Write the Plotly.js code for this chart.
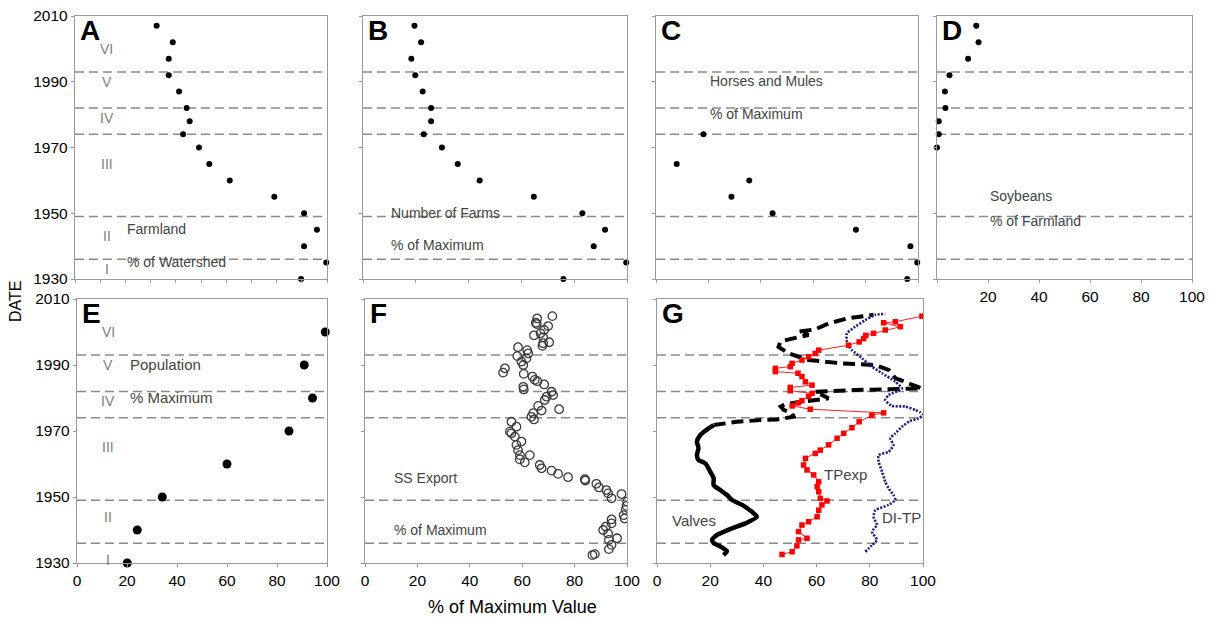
<!DOCTYPE html>
<html>
<head>
<meta charset="utf-8">
<script src="https://cdn.plot.ly/plotly-3.0.1.min.js"></script>
<style>html,body{margin:0;padding:0;background:#fff;}#chart{width:1211px;height:620px;}</style>
</head>
<body>
<div id="chart"></div>
<script>
// ---------- DATA ----------
const farmlandYear = [2007,2002,1997,1992,1987,1982,1978,1974,1970,1965,1960,1955,1950,1945,1940,1935,1930];
const farmlandPct  = [32.4,38.8,37.2,37.2,41.3,44.3,45.5,42.9,49.2,53.3,61.4,79.1,90.9,96.0,90.9,99.7,89.7];

const farmsYear = [2007,2002,1997,1992,1987,1982,1978,1974,1970,1965,1960,1955,1950,1945,1940,1935,1930];
const farmsPct  = [19.5,22.0,18.3,19.8,22.6,25.8,25.8,23.0,29.9,35.9,44.2,64.7,83.1,91.7,87.4,99.7,75.9];

const horsesYear = [1974,1965,1960,1955,1950,1945,1940,1935,1930];
const horsesPct  = [18.1,7.9,35.6,28.8,44.5,76.3,97.1,99.7,95.9];

const soyYear = [2007,2002,1997,1992,1987,1982,1978,1974,1970];
const soyPct  = [15.4,16.3,12.2,4.9,3.1,3.3,0.7,0.7,0.0];

const popYear = [2000,1990,1980,1970,1960,1950,1940,1930];
const popPct  = [99.3,90.9,94.2,84.8,60.0,34.1,24.1,20.1];

const ssYear = [2004.8,2004.1,2002.8,2002.4,2001.8,2000.6,1999.6,1999.0,1998.4,1996.9,1996.6,1995.8,1995.4,1994.5,1993.5,1992.7,1992.0,1991.0,1990.0,1989.0,1987.7,1987.3,1986.5,1985.5,1985.1,1984.1,1983.4,1982.6,1981.9,1980.9,1980.4,1979.4,1977.6,1976.6,1976.2,1975.4,1974.3,1973.5,1972.8,1971.3,1969.8,1969.3,1968.3,1966.8,1965.8,1964.2,1962.7,1962.7,1961.4,1960.5,1959.7,1958.7,1958.0,1957.0,1956.0,1955.4,1955.0,1954.0,1952.9,1952.1,1951.1,1950.9,1949.6,1948.6,1947.3,1946.1,1944.5,1943.5,1943.2,1942.0,1941.0,1940.0,1938.9,1937.5,1937.0,1935.5,1934.2,1932.7,1932.4];
const ssPct  = [71.5,65.7,65.2,65.6,69.9,68.4,67.0,64.5,68.0,70.3,68.0,67.7,58.4,61.9,62.3,58.1,61.6,59.7,60.4,53.4,52.7,60.6,63.9,64.8,65.8,68.4,60.4,60.6,71.2,71.8,69.3,68.6,66.1,74.1,67.4,64.2,63.5,64.5,55.9,57.8,55.3,55.9,57.2,59.7,57.8,58.4,59.1,62.9,59.1,61.0,66.7,67.4,71.2,73.7,77.5,83.9,84.1,88.3,89.3,92.1,92.8,97.9,94.1,100.0,99.8,99.5,98.7,99.1,94.1,94.1,91.9,90.9,92.8,96.2,93.1,94.1,93.1,87.7,86.8];

const valvesSolidYear = [1932.4,1933.6,1935.0,1936.0,1937.0,1938.5,1940.5,1942.0,1944.0,1945.5,1947.6,1949.1,1950.6,1952.1,1953.6,1955.7,1957.7,1960.2,1961.2,1962.7,1964.8,1966.8,1968.8,1970.8,1971.8];
const valvesSolidPct  = [25.0,26.3,23.8,21.3,20.7,22.6,28.2,33.2,37.6,35.7,32.0,28.2,26.3,23.8,21.3,21.3,20.0,18.2,15.6,15.0,15.6,15.0,16.3,19.4,21.3];
const valvesDashYear = [1971.8,1972.8,1973.3,1973.5,1974.3,1975.4,1976.4,1977.4,1978.2,1979.4,1979.9,1980.9,1981.9,1982.4,1982.9,1984.4,1986.0,1988.5,1990.0,1990.5,1991.5,1992.5,1993.5,1995.5,1997.1,1998.0,1999.1,2000.1,2000.8,2002.6,2004.2,2005.2];
const valvesDashPct  = [21.3,30.0,38.8,45.1,51.4,50.7,47.6,46.5,48.5,58.3,64.5,62.0,59.5,74.5,99.6,94.6,89.6,87.1,82.1,69.5,57.0,53.2,49.5,45.7,46.4,50.8,57.0,53.2,59.5,64.5,72.0,81.4];

const tpYear = [1932.6,1933.4,1935.2,1937.0,1937.5,1939.5,1941.5,1942.5,1944.0,1946.0,1947.6,1948.8,1949.6,1951.6,1953.1,1954.6,1956.7,1958.2,1959.7,1961.7,1963.2,1964.2,1965.8,1967.8,1969.3,1971.0,1972.8,1974.8,1975.5,1976.6,1977.6,1978.5,1979.2,1980.5,1981.4,1982.2,1983.2,1983.9,1984.9,1986.5,1987.5,1988.0,1989.0,1989.5,1990.5,1991.5,1992.5,1993.5,1994.5,1996.0,1997.0,1998.0,1999.0,1999.6,2000.6,2001.6,2002.8,2003.1,2004.8];
const tpPct  = [47.0,50.8,52.6,53.2,56.4,53.2,54.5,57.0,60.2,60.8,62.0,63.9,61.4,60.8,60.2,60.8,58.9,56.4,55.1,55.8,59.5,61.4,64.5,67.7,70.2,73.3,76.0,80.8,85.2,57.6,50.8,53.0,54.5,57.0,58.3,50.1,50.1,58.3,55.8,54.5,53.0,44.5,44.5,50.1,50.8,54.5,57.0,59.5,60.8,72.0,76.0,77.7,78.5,81.4,85.8,91.5,85.2,89.6,99.6];

const ditpYear = [1933.4,1935.4,1937.0,1939.5,1941.5,1944.0,1946.0,1947.6,1949.1,1950.6,1952.6,1954.6,1957.7,1960.7,1962.7,1963.7,1965.8,1967.8,1969.3,1971.3,1973.0,1973.8,1974.8,1975.6,1976.4,1977.4,1977.6,1979.4,1980.9,1982.9,1984.9,1987.5,1989.5,1992.0,1994.5,1997.0,1999.6,2001.6,2003.6,2005.2,2005.5];
const ditpPct  = [78.3,80.8,82.7,80.8,82.7,81.4,82.1,87.1,89.6,88.9,87.1,85.8,84.6,83.3,83.3,87.1,88.9,87.7,89.6,92.1,95.0,98.3,100.0,99.0,97.1,93.3,88.3,85.8,87.1,92.1,89.6,84.6,80.8,77.1,73.3,71.4,71.4,74.5,78.3,82.1,85.8];

const periodYears = [1993,1982,1974,1949,1936];
const romanLabels = ['VI','V','IV','III','II','I'];
const romanYearsTop = [2000,1990,1979,1965,1943,1933];
const romanYearsBottom = [2000,1990,1979,1965,1944,1931];
const panelLetters = ['A','B','C','D','E','F','G'];
const yTicks = [1930,1950,1970,1990,2010];

// ---------- LAYOUT ----------
const W = 1211, H = 620;
const px = v => v / W;
const py = v => 1 - v / H;
const xDom = [[75,327],[363,627],[656,918],[937,1192],[77,327],[365,627],[657,923]];
const yDom = [[16,279],[16,279],[16,279],[16,279],[299,563],[299,563],[299,563]];
const FONT = 'Liberation Sans, Arial, sans-serif';
const FRAME = '#9a9a9a';

const layout = {
  width: W, height: H,
  margin: {l:0, r:0, t:0, b:0},
  paper_bgcolor: '#fff', plot_bgcolor: '#fff',
  showlegend: false,
  font: {family: FONT, size: 15, color: '#000'},
  shapes: [], annotations: []
};

for (let i = 0; i < 7; i++) {
  const n = i === 0 ? '' : String(i + 1);
  const xa = {
    domain: [px(xDom[i][0]), px(xDom[i][1])],
    anchor: 'y' + n, range: [0, 100], showgrid: false, zeroline: false,
    showline: true, mirror: true, linecolor: FRAME, linewidth: 1.2,
    ticks: 'outside', ticklen: 3, tickcolor: FRAME,
    tickmode: 'array', tickvals: [0,20,40,60,80,100],
    ticktext: ['0','20','40','60','80','100'],
    tickfont: {family: FONT, size: 15.5, color: '#000'},
    showticklabels: i >= 3, fixedrange: true
  };
  if (i === 0) { xa.tickvals = [0,10,20,30,40,50,60,70,80,90,100]; xa.ticktext = xa.tickvals.map(String); }
  if (i === 3) { xa.ticktext = ['','20','40','60','80','100']; }
  const ya = {
    domain: [py(yDom[i][1]), py(yDom[i][0])],
    anchor: 'x' + n, range: [1930, 2010], showgrid: false, zeroline: false,
    showline: true, mirror: true, linecolor: FRAME, linewidth: 1.2,
    ticks: 'outside', ticklen: 3, tickcolor: FRAME,
    tickmode: 'array', tickvals: yTicks,
    tickfont: {family: FONT, size: 15.5, color: '#000'},
    showticklabels: (i === 0 || i === 4), fixedrange: true
  };
  layout['xaxis' + n] = xa;
  layout['yaxis' + n] = ya;

  periodYears.forEach(yr => {
    layout.shapes.push({type: 'line', xref: 'x' + n + ' domain', yref: 'y' + n,
      x0: 0, x1: 1, y0: yr, y1: yr,
      line: {color: '#8a8a8a', width: 1.5, dash: '9px,5px'}, layer: 'below'});
  });

  layout.annotations.push({xref: 'x' + n + ' domain', yref: 'y' + n + ' domain',
    x: 0.01, y: 1.01, xanchor: 'left', yanchor: 'top', showarrow: false,
    text: '<b>' + panelLetters[i] + '</b>', font: {family: FONT, size: 28, color: '#000'}});
}

function note(ax, x, y, text, opts) {
  const n = ax === 1 ? '' : String(ax);
  layout.annotations.push(Object.assign({xref: 'x' + n, yref: 'y' + n, x: x, y: y,
    xanchor: 'left', yanchor: 'middle', showarrow: false, text: text,
    font: {family: FONT, size: 14, color: '#444'}}, opts || {}));
}

romanLabels.forEach((r, k) => {
  note(1, 12.5, romanYearsTop[k], r, {xanchor: 'center', font: {family: FONT, size: 14, color: '#808080'}});
  note(5, 12.5, romanYearsBottom[k], r, {xanchor: 'center', font: {family: FONT, size: 14, color: '#808080'}});
});

note(1, 20, 1945.3, 'Farmland');
note(1, 20, 1935.2, '% of Watershed');
note(2, 10, 1950.2, 'Number of Farms');
note(2, 10, 1940.2, '% of Maximum');
note(3, 20, 1990.3, 'Horses and Mules');
note(3, 20, 1980.2, '% of Maximum');
note(4, 20, 1955.3, 'Soybeans');
note(4, 20, 1947.5, '% of Farmland');
note(5, 20.5, 1990.3, 'Population', {font: {family: FONT, size: 15, color: '#444'}});
note(5, 20.5, 1980.3, '% Maximum', {font: {family: FONT, size: 15, color: '#444'}});
note(6, 10.2, 1955.9, 'SS Export');
note(6, 10.2, 1940, '% of Maximum');
note(7, 5, 1942.8, 'Valves', {font: {family: FONT, size: 15, color: '#444'}});
note(7, 62, 1956.7, 'TPexp', {font: {family: FONT, size: 15, color: '#444'}});
note(7, 84, 1943.8, 'DI-TP', {font: {family: FONT, size: 15, color: '#444'}});

layout.annotations.push({xref: 'paper', yref: 'paper', x: px(15), y: py(302),
  text: 'DATE', textangle: -90, showarrow: false, xanchor: 'center', yanchor: 'middle',
  font: {family: FONT, size: 16, color: '#000'}});
layout.annotations.push({xref: 'paper', yref: 'paper', x: px(512), y: py(607),
  text: '% of Maximum Value', showarrow: false, xanchor: 'center', yanchor: 'middle',
  font: {family: FONT, size: 18, color: '#000'}});

// ---------- TRACES ----------
const dot = (xs, ys, ax, size) => ({type: 'scatter', mode: 'markers', x: xs, y: ys,
  xaxis: 'x' + (ax === 1 ? '' : ax), yaxis: 'y' + (ax === 1 ? '' : ax),
  marker: {color: '#000', size: size}, hoverinfo: 'skip', cliponaxis: false});

const traces = [
  dot(farmlandPct, farmlandYear, 1, 6),
  dot(farmsPct, farmsYear, 2, 6),
  dot(horsesPct, horsesYear, 3, 6),
  dot(soyPct, soyYear, 4, 6),
  dot(popPct, popYear, 5, 9),
  {type: 'scatter', mode: 'markers', x: ssPct, y: ssYear, xaxis: 'x6', yaxis: 'y6',
    marker: {symbol: 'circle-open', size: 8.5, color: '#3a3a3a', line: {width: 1.3, color: '#3a3a3a'}}, hoverinfo: 'skip'},
  {type: 'scatter', mode: 'lines', x: valvesSolidPct, y: valvesSolidYear, xaxis: 'x7', yaxis: 'y7',
    line: {color: '#000', width: 4.5, shape: 'spline', smoothing: 0.6}, hoverinfo: 'skip'},
  {type: 'scatter', mode: 'lines', x: valvesDashPct, y: valvesDashYear, xaxis: 'x7', yaxis: 'y7',
    line: {color: '#000', width: 4, dash: '12px,6px'}, hoverinfo: 'skip'},
  {type: 'scatter', mode: 'lines', x: ditpPct, y: ditpYear, xaxis: 'x7', yaxis: 'y7',
    line: {color: '#1c1c8a', width: 2.6, dash: '2px,1.5px', shape: 'spline', smoothing: 0.5}, hoverinfo: 'skip'},
  {type: 'scatter', mode: 'lines+markers', x: tpPct, y: tpYear, xaxis: 'x7', yaxis: 'y7',
    line: {color: '#ff2020', width: 1}, marker: {symbol: 'square', size: 5.5, color: '#ff0000'}, hoverinfo: 'skip'}
];

Plotly.newPlot('chart', traces, layout, {staticPlot: true, displayModeBar: false});
</script>
</body>
</html>
